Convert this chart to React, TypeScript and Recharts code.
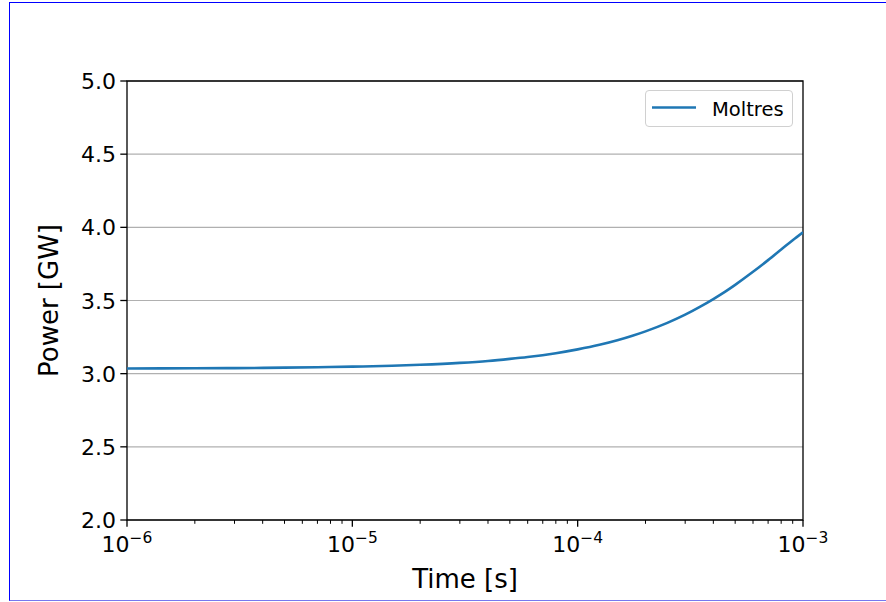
import React from 'react';
import { LineChart, Line, XAxis, YAxis, CartesianGrid, Legend, ReferenceArea } from 'recharts';

const times = [
  1e-6, 2e-6, 3e-6, 5e-6, 7e-6, 1e-5, 1.5e-5, 2e-5, 3e-5, 4e-5, 5e-5, 6e-5, 8e-5,
  1e-4, 1.25e-4, 1.5e-4, 1.75e-4, 2e-4, 2.5e-4, 3e-4, 3.5e-4, 4e-4, 4.5e-4, 5e-4,
  6e-4, 7e-4, 8e-4, 9e-4, 1e-3,
];
const power = [
  3.035, 3.037, 3.038, 3.041, 3.044, 3.048, 3.054, 3.061, 3.074, 3.087, 3.101, 3.114, 3.14,
  3.166, 3.197, 3.228, 3.259, 3.289, 3.347, 3.403, 3.458, 3.51, 3.559, 3.607,
  3.696, 3.776, 3.848, 3.912, 3.966,
];
const xMajorTicks = [1e-6, 1e-5, 1e-4, 1e-3];
const xTickExponents = ['\u22126', '\u22125', '\u22124', '\u22123'];
const xMinorTicks = [
  2e-6, 3e-6, 4e-6, 5e-6, 6e-6, 7e-6, 8e-6, 9e-6,
  2e-5, 3e-5, 4e-5, 5e-5, 6e-5, 7e-5, 8e-5, 9e-5,
  2e-4, 3e-4, 4e-4, 5e-4, 6e-4, 7e-4, 8e-4, 9e-4,
];
const yTicks = [2.0, 2.5, 3.0, 3.5, 4.0, 4.5, 5.0];
const seriesName = 'Moltres';
const xLabel = 'Time [s]';
const yLabel = 'Power [GW]';

const data = times.map((t, i) => ({ t, p: power[i] }));
const allXTicks = [...xMajorTicks, ...xMinorTicks].sort((a, b) => a - b);

const FONT = '"DejaVu Sans", sans-serif';
const LINE_COLOR = '#1f77b4';

const XTick = (props: any) => {
  const { x, y, payload } = props;
  const v = payload.value;
  const idx = xMajorTicks.findIndex((m) => Math.abs(m - v) / m < 1e-6);
  if (idx < 0) {
    return <line x1={x} x2={x} y1={y} y2={y + 3.8} stroke="#000" strokeWidth={1} />;
  }
  return (
    <g>
      <line x1={x} x2={x} y1={y} y2={y + 6.7} stroke="#000" strokeWidth={1.3} />
      <text x={x} y={y + 32} textAnchor="middle" fontFamily={FONT} fontSize={22} fill="#000">
        <tspan>10</tspan>
        <tspan dy={-9} fontSize={15.5}>{xTickExponents[idx]}</tspan>
      </text>
    </g>
  );
};

const YTick = (props: any) => {
  const { x, y, payload } = props;
  return (
    <g>
      <line x1={x - 6.7} x2={x} y1={y} y2={y} stroke="#000" strokeWidth={1.3} />
      <text x={x - 11} y={y + 8} textAnchor="end" fontFamily={FONT} fontSize={22} fill="#000">
        {Number(payload.value).toFixed(1)}
      </text>
    </g>
  );
};

const LegendBox = () => (
  <div
    style={{
      width: 146,
      height: 35,
      border: '1px solid #d0d0d0',
      borderRadius: 4,
      background: 'rgba(255,255,255,0.8)',
      position: 'relative',
      boxSizing: 'content-box',
    }}
  >
    <svg width={146} height={35} style={{ position: 'absolute', left: 0, top: 0 }}>
      <line x1={6} x2={50} y1={16.5} y2={16.5} stroke={LINE_COLOR} strokeWidth={2.5} />
      <text x={66} y={24.5} fontFamily={FONT} fontSize={19.5} fill="#000">
        {seriesName}
      </text>
    </svg>
  </div>
);

export default function App() {
  return (
    <div
      style={{
        position: 'absolute',
        left: 0,
        top: 0,
        width: 886,
        height: 602,
        overflow: 'hidden',
        background: '#fff',
      }}
    >
      <div
        style={{
          position: 'absolute',
          left: 9,
          top: 2,
          width: 900,
          height: 597,
          borderTop: '1px solid #0000ff',
          borderLeft: '1px solid #0000ff',
          borderBottom: '1px solid #7777ee',
        }}
      />
      <LineChart
        width={886}
        height={602}
        data={data}
        margin={{ top: 81, right: 83, bottom: 0, left: 0 }}
        style={{ position: 'absolute', left: 0, top: 0 }}
      >
        <CartesianGrid vertical={false} stroke="#b0b0b0" strokeWidth={1.1} />
        <XAxis
          dataKey="t"
          type="number"
          scale="log"
          domain={[1e-6, 1e-3]}
          ticks={allXTicks}
          interval={0}
          allowDataOverflow
          height={82}
          tickLine={false}
          axisLine={false}
          tickSize={0}
          tickMargin={0}
          tick={<XTick />}
        />
        <YAxis
          type="number"
          domain={[2, 5]}
          ticks={yTicks}
          interval={0}
          allowDataOverflow
          width={127}
          tickLine={false}
          axisLine={false}
          tickSize={0}
          tickMargin={0}
          tick={<YTick />}
        />
        <ReferenceArea
          x1={1e-6}
          x2={1e-3}
          y1={2}
          y2={5}
          fill="none"
          fillOpacity={0}
          stroke="#000"
          strokeWidth={1.3}
          ifOverflow="visible"
        />
        <Line
          type="monotone"
          dataKey="p"
          name={seriesName}
          stroke={LINE_COLOR}
          strokeWidth={2.6}
          dot={false}
          isAnimationActive={false}
        />
        <Legend
          layout="horizontal"
          verticalAlign="middle"
          align="center"
          content={<LegendBox />}
          wrapperStyle={{ position: 'absolute', left: 645, top: 90, width: 'auto', height: 'auto' }}
        />
        <text
          x={465}
          y={588}
          textAnchor="middle"
          fontFamily={FONT}
          fontSize={26}
          fill="#000"
        >
          {xLabel}
        </text>
        <text
          x={58}
          y={300.5}
          transform="rotate(-90 58 300.5)"
          textAnchor="middle"
          fontFamily={FONT}
          fontSize={26}
          fill="#000"
        >
          {yLabel}
        </text>
      </LineChart>
    </div>
  );
}
